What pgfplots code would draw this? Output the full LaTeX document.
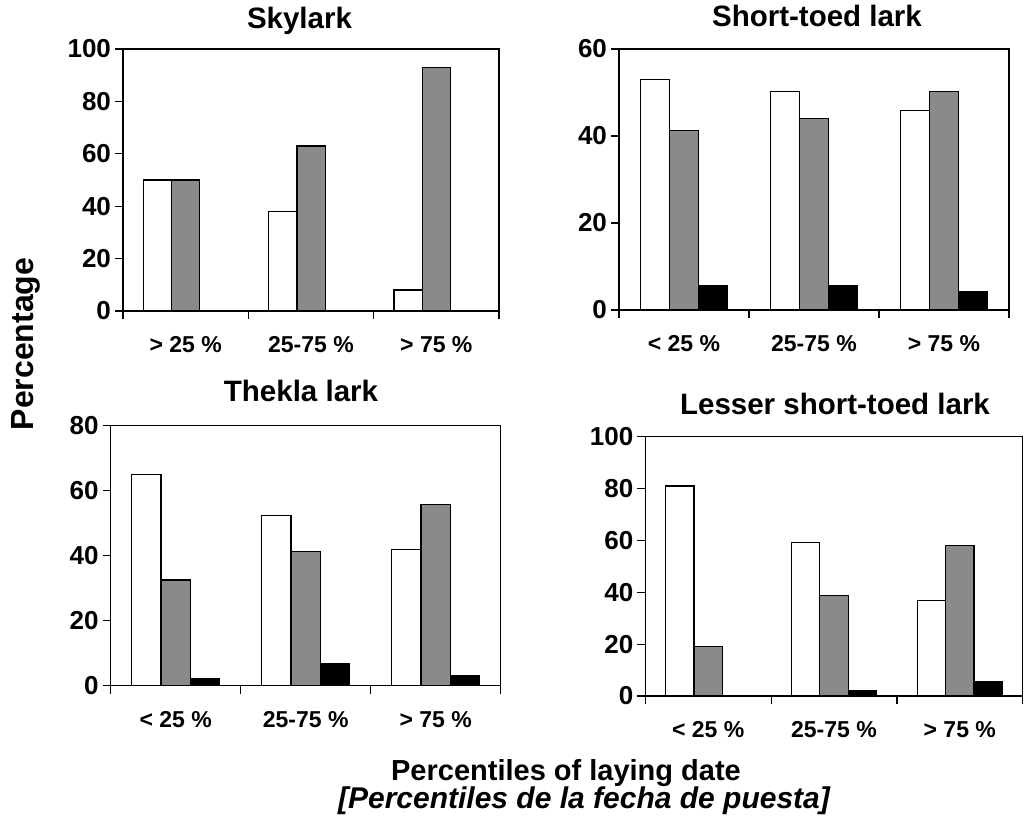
\documentclass[border=0pt]{standalone}
\usepackage{fontspec}
\setmainfont{Liberation Sans}
\usepackage{pgfplots}
\pgfplotsset{compat=1.18}

\definecolor{hatchgrey}{RGB}{138,138,138}

\pgfplotsset{
  larkpanel/.style={
    scale only axis, anchor=south west,
    ymin=0, xmin=-0.5, xmax=2.5,
    bar width=0.225,
    axis line style={line width=0.6pt},
    tick align=outside, xtick pos=bottom, ytick pos=left,
    major tick length=4pt,
    every tick/.style={black, line width=0.6pt},
    xtick={-0.5,0.5,1.5,2.5}, xticklabels={},
    extra x ticks={0,1,2},
    extra x tick style={major tick length=0pt},
    /pgf/number format/assume math mode=true,
    yticklabel style={font=\fontsize{13}{13}\selectfont\bfseries, xshift=1.5pt},
    xticklabel style={font=\fontsize{11.5}{12}\selectfont\bfseries, anchor=base, yshift=-21pt},
    title style={font=\fontsize{14.75}{15}\selectfont\bfseries, anchor=base, at={(0.5,1)}},
  },
  whitebar/.style={ybar, fill=white, draw=black, line width=0.6pt, bar shift=-0.225},
  greybar/.style={ybar, fill=hatchgrey, draw=black, line width=0.6pt, bar shift=0},
  blackbar/.style={ybar, fill=black, draw=black, line width=0.6pt, bar shift=0.225},
}

\begin{document}
\begin{tikzpicture}
\path[use as bounding box] (0,0) rectangle (512pt,411pt);

% Skylark
\begin{axis}[larkpanel, at={(61.5pt,255.5pt)}, width=188pt, height=131pt,
  ymax=100, ytick={0,20,...,100},
  extra x tick labels={{> 25 \%},{25-75 \%},{> 75 \%}},
  title={Skylark}, title style={xshift=-5.75pt, yshift=4pt}]
  \addplot[whitebar] coordinates {(0,50) (1,38) (2,8)};
  \addplot[greybar]  coordinates {(0,50) (1,63) (2,93)};
\end{axis}

% Short-toed lark
\begin{axis}[larkpanel, at={(309.5pt,256pt)}, width=195pt, height=130.5pt,
  ymax=60, ytick={0,20,40,60},
  extra x tick labels={{< 25 \%},{25-75 \%},{> 75 \%}},
  title={Short-toed lark}, title style={xshift=1.5pt, yshift=5.15pt}]
  \addplot[whitebar] coordinates {(0,53) (1,50.2) (2,45.8)};
  \addplot[greybar]  coordinates {(0,41.2) (1,44.1) (2,50.2)};
  \addplot[blackbar] coordinates {(0,5.7) (1,5.7) (2,4.2)};
\end{axis}

% Thekla lark
\begin{axis}[larkpanel, at={(55.35pt,68.15pt)}, width=195pt, height=130pt,
  ymax=80, ytick={0,20,...,80},
  extra x tick labels={{< 25 \%},{25-75 \%},{> 75 \%}},
  title={Thekla lark}, title style={xshift=-2.35pt, yshift=5.85pt}]
  \addplot[whitebar] coordinates {(0,65) (1,52.3) (2,42)};
  \addplot[greybar]  coordinates {(0,32.5) (1,41.4) (2,55.8)};
  \addplot[blackbar] coordinates {(0,2.3) (1,6.7) (2,3.1)};
\end{axis}

% Lesser short-toed lark
\begin{axis}[larkpanel, at={(322.65pt,63pt)}, width=188.7pt, height=129.65pt,
  ymax=100, ytick={0,20,...,100},
  extra x tick labels={{< 25 \%},{25-75 \%},{> 75 \%}},
  title={Lesser short-toed lark}, title style={xshift=0.5pt, yshift=4.85pt}]
  \addplot[whitebar] coordinates {(0,81) (1,59.3) (2,36.8)};
  \addplot[greybar]  coordinates {(0,19) (1,38.7) (2,58)};
  \addplot[blackbar] coordinates {(1,1.9) (2,5.5)};
\end{axis}

% shared axis titles
\node[rotate=90, anchor=base, font=\fontsize{16}{16}\selectfont\bfseries]
  at (16.5pt,239pt) {Percentage};
\node[anchor=base, font=\fontsize{14.5}{15}\selectfont\bfseries]
  at (283pt,20.5pt) {Percentiles of laying date};
\node[anchor=base, font=\fontsize{15}{15}\selectfont\bfseries\itshape]
  at (292pt,6.5pt) {[Percentiles de la fecha de puesta]};
\end{tikzpicture}
\end{document}
